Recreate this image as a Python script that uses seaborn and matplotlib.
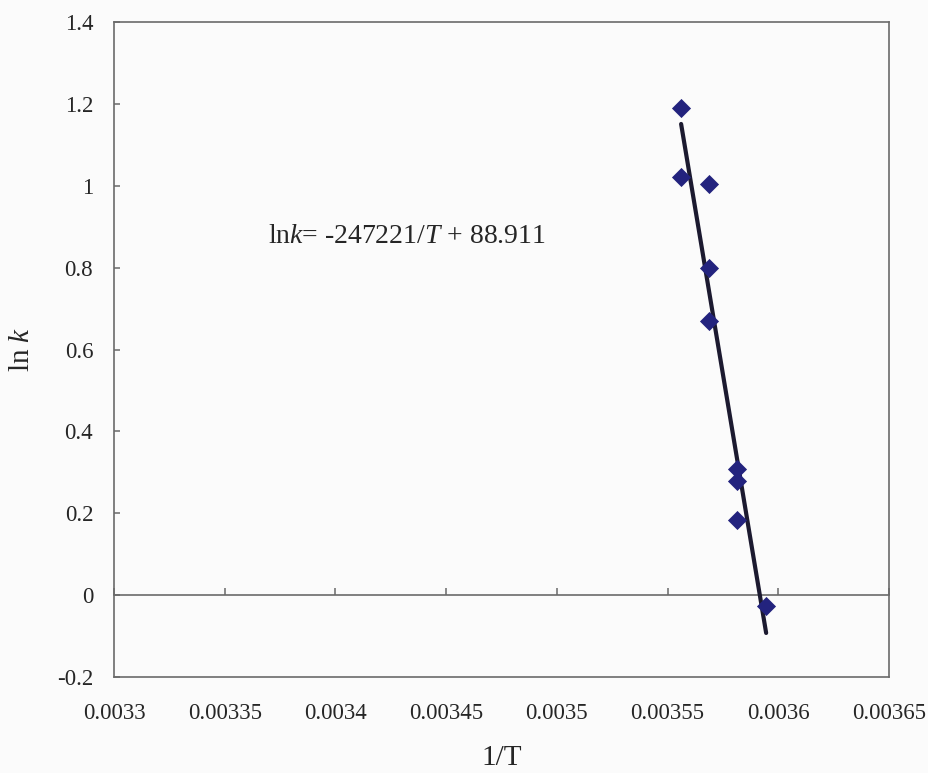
import numpy as np
import pandas as pd
import matplotlib
matplotlib.use("Agg")
import matplotlib.pyplot as plt
import seaborn as sns

# Arrhenius data: reciprocal temperature (1/K) and ln of the rate constant
inv_T = [0.0035561, 0.0035561, 0.0035688, 0.0035688, 0.0035688,
         0.0035814, 0.0035814, 0.0035814, 0.0035945]
ln_k = [1.189, 1.021, 1.004, 0.799, 0.669, 0.308, 0.278, 0.183, -0.027]

x_ticks = [0.0033, 0.00335, 0.0034, 0.00345, 0.0035, 0.00355, 0.0036, 0.00365]
x_tick_labels = ["0.0033", "0.00335", "0.0034", "0.00345", "0.0035",
                 "0.00355", "0.0036", "0.00365"]
y_ticks = [-0.2, 0, 0.2, 0.4, 0.6, 0.8, 1, 1.2, 1.4]
y_tick_labels = ["-0.2", "0", "0.2", "0.4", "0.6", "0.8", "1", "1.2", "1.4"]
equation = r"ln$k$= -247221/$T$ + 88.911"

df = pd.DataFrame({"inv_T": inv_T, "ln_k": ln_k})

sns.set_theme(style="white")
plt.rcParams["font.family"] = ["Liberation Serif", "DejaVu Serif"]
plt.rcParams["mathtext.fontset"] = "custom"
plt.rcParams["mathtext.it"] = "Liberation Serif:italic"
plt.rcParams["mathtext.rm"] = "Liberation Serif"

bg = "#fbfbfb"
text_col = "#262626"
fig, ax = plt.subplots(figsize=(9.29, 7.73), dpi=100, facecolor=bg)
fig.subplots_adjust(left=0.1227, right=0.957, top=0.9715, bottom=0.1242)
ax.set_facecolor(bg)

# fitted line over the data range
sns.regplot(data=df, x="inv_T", y="ln_k", ax=ax, scatter=False, ci=None,
            truncate=True, line_kws=dict(color="#1c1a30", lw=3.0, zorder=2))
sns.scatterplot(data=df, x="inv_T", y="ln_k", ax=ax, marker="D", s=95,
                color="#23237e", edgecolor="#23237e", linewidth=0, zorder=3)

ax.set_xlim(0.0033, 0.00365)
ax.set_ylim(-0.2, 1.4)

spine_col = "#6a6a6a"
for sp in ax.spines.values():
    sp.set_visible(True)
    sp.set_color(spine_col)
    sp.set_linewidth(1.2)

ax.set_xticks(x_ticks)
ax.set_xticklabels(x_tick_labels)
ax.set_yticks(y_ticks)
ax.set_yticklabels(y_tick_labels)
ax.tick_params(axis="x", length=0, pad=19, labelsize=16.5, labelcolor=text_col)
ax.tick_params(axis="y", direction="in", length=4, width=1.1, color=spine_col,
               pad=15, labelsize=16.5, labelcolor=text_col, left=True)

# horizontal axis line through y = 0 carrying the x tick marks
zero_loc = (0 - (-0.2)) / (1.4 - (-0.2))
sec = ax.secondary_xaxis(zero_loc)
sec.set_xticks(x_ticks)
sec.tick_params(direction="in", length=5, width=1.1, color=spine_col,
                labelbottom=False, labeltop=False)
sec.spines["bottom"].set_color(spine_col)
sec.spines["bottom"].set_linewidth(1.2)

ax.set_xlabel("1/T", fontsize=21, labelpad=15, color=text_col)
ax.set_ylabel(r"ln $k$", fontsize=21, labelpad=16, color=text_col)

ax.text(0.0033695, 0.875, equation, fontsize=20, color=text_col,
        ha="left", va="center")

fig.savefig("out.png", dpi=100, facecolor=bg)
